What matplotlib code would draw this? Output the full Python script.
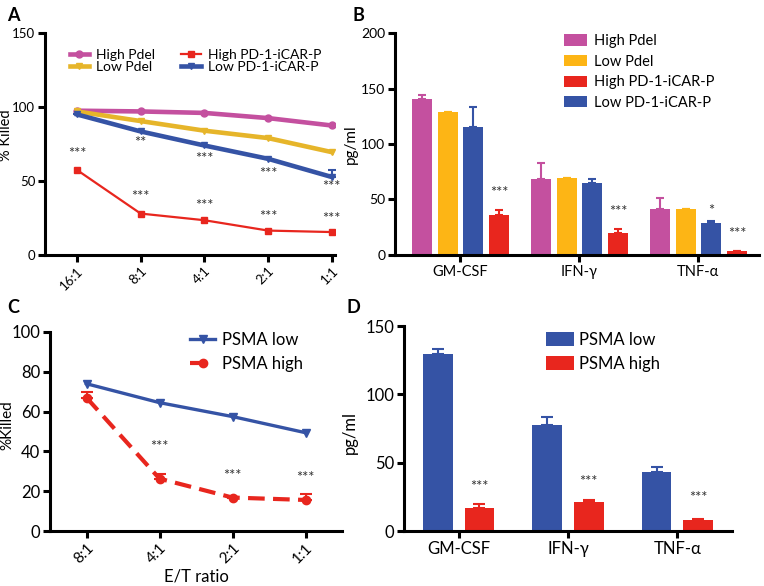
import matplotlib
matplotlib.use("Agg")
import matplotlib.pyplot as plt
import numpy as np

plt.rcParams['font.family'] = ['Lato', 'DejaVu Sans']

# ---------------- Data ----------------
ratios_a = ["16:1", "8:1", "4:1", "2:1", "1:1"]
high_pdel = [97.5, 97, 96, 92.5, 87.5]
low_pdel = [97, 90.5, 84, 79, 69.5]
high_pd1 = [57.5, 28, 23.5, 16.5, 15.5]
low_pd1 = [95, 83.5, 74, 65, 52.7]
low_pd1_err = [0, 0, 0, 0, 4.5]
a_stars_upper = ["***", "**", "***", "***", "***"]
a_stars_upper_y = [68.5, 75.5, 65, 54.5, 46]
a_stars_lower = ["", "***", "***", "***", "***"]
a_stars_lower_y = [0, 39, 33, 25.5, 24]

cytokines = ["GM-CSF", "IFN-γ", "TNF-α"]
b_high_pdel = [140.5, 68.3, 41.8]
b_high_pdel_err = [4, 14.4, 10]
b_low_pdel = [128.8, 69.8, 41.8]
b_low_pdel_err = [0, 0, 0]
b_low_pd1 = [115.7, 64.7, 28.9]
b_low_pd1_err = [18, 4, 1.5]
b_high_pd1 = [36.1, 19.5, 3.6]
b_high_pd1_err = [4, 4, 0.4]
b_stars = [("***", 3, 0, 55.5), ("***", 3, 1, 38.5), ("*", 2, 2, 39.5), ("***", 3, 2, 19)]

ratios_c = ["8:1", "4:1", "2:1", "1:1"]
psma_low = [74, 64.5, 57.5, 49.4]
psma_high = [67, 26.3, 16.8, 15.6]
psma_high_err = [2.8, 2.5, 0.5, 3.2]
c_stars_y = [None, 42.2, 27.8, 26.6]

d_low = [129.8, 77.8, 43.2]
d_low_err = [3.2, 5.9, 3.6]
d_high = [17, 21.2, 8.0]
d_high_err = [3, 1.2, 0.5]
d_stars_y = [32, 35.6, 24]

# ---------------- Colors ----------------
MAG = "#C4509F"
GOLD = "#E6B52A"
ORANGE = "#FDB515"
RED = "#E8261E"
BLUE = "#3553A5"
STARC = "#333333"
STARFS = 10.5

W, H = 764, 586
fig = plt.figure(figsize=(W / 100, H / 100), dpi=100)


def axes_px(l, t, r, b):
    return fig.add_axes([l / W, 1 - b / H, (r - l) / W, (b - t) / H])


def style(ax, lw=2.2):
    for s in ["top", "right"]:
        ax.spines[s].set_visible(False)
    for s in ["left", "bottom"]:
        ax.spines[s].set_linewidth(lw)
    ax.tick_params(width=lw, length=5, direction="out", pad=2)


# ---------------- Panel A ----------------
axA = axes_px(45, 33, 335, 255)
style(axA)
xa = np.arange(len(ratios_a))
axA.plot(xa, high_pdel, color=MAG, lw=3.3, marker="o", ms=5, label="High Pdel", zorder=3)
axA.plot(xa, low_pdel, color=GOLD, lw=3.3, marker="v", ms=5, label="Low Pdel", zorder=3)
axA.plot(xa, high_pd1, color=RED, lw=1.6, marker="s", ms=5, label="High PD-1-iCAR-P", zorder=4)
axA.plot(xa, low_pd1, color=BLUE, lw=3.3, marker="v", ms=5, label="Low PD-1-iCAR-P", zorder=5)
axA.errorbar(xa, low_pd1, yerr=[np.zeros(len(xa)), low_pd1_err], fmt="none", ecolor=BLUE,
             capsize=3, elinewidth=1.5, capthick=1.5, zorder=5)
for x, s, y in zip(xa, a_stars_upper, a_stars_upper_y):
    axA.text(x, y, s, ha="center", va="center", fontsize=STARFS, color=STARC)
for x, s, y in zip(xa, a_stars_lower, a_stars_lower_y):
    if s:
        axA.text(x, y, s, ha="center", va="center", fontsize=STARFS, color=STARC)
axA.set_xlim(-0.5, 4.05)
axA.set_ylim(0, 150)
axA.set_yticks([0, 50, 100, 150])
axA.set_xticks(xa)
axA.set_xticklabels(ratios_a, rotation=45, ha="right", rotation_mode="anchor", fontsize=9.5)
axA.tick_params(axis="y", labelsize=9.5)
axA.set_ylabel("% Killed", fontsize=10.5)
axA.yaxis.set_label_coords(-0.11, 0.54)
axA.legend(ncol=2, loc="upper left", bbox_to_anchor=(0.085, 0.93), frameon=False,
           fontsize=10, handlelength=1.4, handletextpad=0.5, columnspacing=1.9,
           labelspacing=0.0, borderpad=0, borderaxespad=0)

# ---------------- Panel B ----------------
axB = axes_px(395, 33, 759, 255)
style(axB)
xb = np.arange(len(cytokines))
offs = [-0.322, -0.105, 0.11, 0.328]
bw = 0.168
series_b = [
    (b_high_pdel, b_high_pdel_err, MAG, "High Pdel", 0),
    (b_low_pdel, b_low_pdel_err, ORANGE, "Low Pdel", 1),
    (b_low_pd1, b_low_pd1_err, BLUE, "Low PD-1-iCAR-P", 2),
    (b_high_pd1, b_high_pd1_err, RED, "High PD-1-iCAR-P", 3),
]
handles_b = {}
for vals, err, col, lab, i in series_b:
    h = axB.bar(xb + offs[i], vals, bw, color=col, label=lab,
                yerr=[np.zeros(len(vals)), err], capsize=3,
                error_kw=dict(ecolor=col, elinewidth=1.5, capthick=1.5))
    handles_b[lab] = h
for s, i, c, y in b_stars:
    axB.text(c + offs[i], y, s, ha="center", va="center", fontsize=STARFS, color=STARC)
axB.set_xlim(-0.546, 2.51)
axB.set_ylim(0, 200)
axB.set_yticks([0, 50, 100, 150, 200])
axB.set_xticks(xb)
axB.set_xticklabels(cytokines, fontsize=10.5)
axB.tick_params(axis="y", labelsize=10)
axB.set_ylabel("pg/ml", fontsize=11)
axB.yaxis.set_label_coords(-0.102, 0.5)
order = ["High Pdel", "Low Pdel", "High PD-1-iCAR-P", "Low PD-1-iCAR-P"]
axB.legend([handles_b[k] for k in order], order, loc="upper left",
           bbox_to_anchor=(0.464, 0.995), frameon=False, fontsize=10.5,
           handlelength=1.55, handleheight=0.8, handletextpad=0.5,
           labelspacing=0.45, borderpad=0, borderaxespad=0)

# ---------------- Panel C ----------------
axC = axes_px(50, 332, 342, 531)
style(axC)
xc = np.arange(len(ratios_c))
axC.plot(xc, psma_low, color=BLUE, lw=2.4, marker="v", ms=6, label="PSMA low", zorder=3)
axC.plot(xc, psma_high, color=RED, lw=3, ls=(0, (4, 2)), marker="o", ms=6,
         label="PSMA high", zorder=4)
axC.errorbar(xc, psma_high, yerr=[np.zeros(len(xc)), psma_high_err], fmt="none",
             ecolor=RED, capsize=4, elinewidth=1.5, capthick=1.5, zorder=4)
for x, y in zip(xc, c_stars_y):
    if y is not None:
        axC.text(x, y, "***", ha="center", va="center", fontsize=STARFS, color=STARC)
axC.set_xlim(-0.5, 3.5)
axC.set_ylim(0, 100)
axC.set_yticks([0, 20, 40, 60, 80, 100])
axC.set_xticks(xc)
axC.set_xticklabels(ratios_c, rotation=45, ha="right", rotation_mode="anchor", fontsize=11)
axC.tick_params(axis="y", labelsize=12)
axC.set_ylabel("%Killed", fontsize=11)
axC.yaxis.set_label_coords(-0.122, 0.53)
axC.set_xlabel("E/T ratio", fontsize=12, labelpad=2)
axC.legend(loc="upper left", bbox_to_anchor=(0.48, 1.0), frameon=False, fontsize=12,
           handlelength=1.5, handletextpad=0.4, labelspacing=0.45, borderpad=0,
           borderaxespad=0)

# ---------------- Panel D ----------------
axD = axes_px(404, 326, 732, 531)
style(axD)
xd = np.arange(len(cytokines))
dw = 0.27
axD.bar(xd - 0.19, d_low, dw, color=BLUE, label="PSMA low",
        yerr=[np.zeros(3), d_low_err], capsize=4,
        error_kw=dict(ecolor=BLUE, elinewidth=1.5, capthick=1.5))
axD.bar(xd + 0.19, d_high, dw, color=RED, label="PSMA high",
        yerr=[np.zeros(3), d_high_err], capsize=4,
        error_kw=dict(ecolor=RED, elinewidth=1.5, capthick=1.5))
for x, y in zip(xd, d_stars_y):
    axD.text(x + 0.19, y, "***", ha="center", va="center", fontsize=STARFS, color=STARC)
axD.set_xlim(-0.5, 2.5)
axD.set_ylim(0, 150)
axD.set_yticks([0, 50, 100, 150])
axD.set_xticks(xd)
axD.set_xticklabels(cytokines, fontsize=12)
axD.tick_params(axis="y", labelsize=12)
axD.set_ylabel("pg/ml", fontsize=12)
axD.yaxis.set_label_coords(-0.14, 0.48)
axD.legend(loc="upper left", bbox_to_anchor=(0.433, 0.97), frameon=False, fontsize=12,
           handlelength=1.7, handleheight=0.9, handletextpad=0.3, labelspacing=0.45,
           borderpad=0, borderaxespad=0)

# ---------------- Panel letters ----------------
for lab, x, y in [("A", 7, 7), ("B", 352, 7), ("C", 7, 299), ("D", 347, 299)]:
    fig.text(x / W, 1 - y / H, lab, fontsize=13, fontweight="bold", ha="left", va="top")

fig.savefig("out.png", dpi=100)
